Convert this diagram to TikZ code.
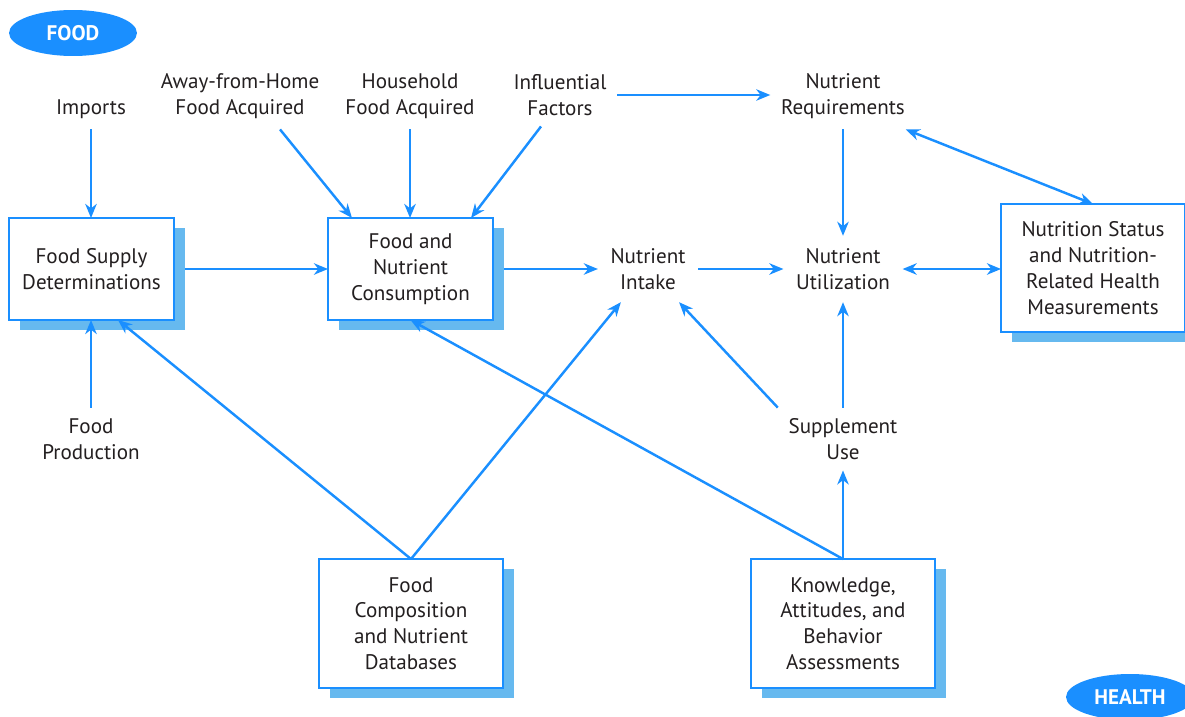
\documentclass[tikz,border=0pt]{standalone}
\usepackage{fontspec}
\setmainfont{PT Sans}
\usetikzlibrary{arrows.meta,shapes.geometric,shadows}
\definecolor{linkblue}{HTML}{1A8FFF}
\definecolor{shadeblue}{HTML}{66B9EF}
\definecolor{inkgray}{HTML}{231F20}

\begin{document}
\begin{tikzpicture}[x=0.02cm, y=-0.02cm, >={Stealth[length=8pt,width=6.5pt,inset=2.5pt]},
  every node/.style={font=\fontsize{12}{14.7}\selectfont, text=inkgray, align=center},
  box/.style={draw=linkblue, line width=1pt, fill=white, outer sep=0pt, minimum width=3.3cm, minimum height=2.04cm,
    general shadow={shadow xshift=0.22cm, shadow yshift=-0.2cm, fill=shadeblue}},
  lbl/.style={inner sep=6pt},
  tag/.style={ellipse, fill=linkblue, text=white, font=\fontsize{12}{14}\selectfont\bfseries, minimum width=2.56cm, minimum height=0.92cm},
  link/.style={draw=linkblue, line width=1.4pt, ->},
  both/.style={link, <->}]
\useasboundingbox (0,0) rectangle (1185,716);
% corner tags
\node[tag] (food) at (73,33) {FOOD};
\node[tag] (health) at (1130,697) {HEALTH};
% top row
\node[lbl] (imp) at (91,109) {Imports};
\node[lbl] (away) at (240,96) {Away-from-Home\\Food Acquired};
\node[lbl] (hh) at (410,96) {Household\\Food Acquired};
\node[lbl] (infl) at (560,95) {Influential\\Factors};
\node[lbl] (req) at (843,96) {Nutrient\\Requirements};
% middle row
\node[box] (fsd) at (91.5,269) {Food Supply\\Determinations};
\node[box] (cons) at (410.5,269) {Food and\\Nutrient\\Consumption};
\node[lbl, inner sep=7pt] (intake) at (648,269) {Nutrient\\Intake};
\node[lbl, inner sep=7pt] (util) at (843,269) {Nutrient\\Utilization};
\node[box, minimum width=3.68cm, minimum height=2.56cm] (nst) at (1093,268) {Nutrition Status\\and Nutrition-\\Related Health\\Measurements};
\node[lbl] (prod) at (91,439) {Food\\Production};
\node[lbl] (supp) at (843,439) {Supplement\\Use};
% bottom boxes
\node[box, minimum width=3.68cm, minimum height=2.58cm] (fcd) at (411,623.5) {Food\\Composition\\and Nutrient\\Databases};
\node[box, minimum width=3.68cm, minimum height=2.58cm] (kab) at (843,623.5) {Knowledge,\\Attitudes, and\\Behavior\\Assessments};
% food side
\draw[link] (imp.south) -- (imp.south |- fsd.north);
\draw[link] (prod.north) -- (prod.north |- fsd.south);
\draw[link] ([xshift=0.8cm]away.south) -- ([xshift=0.48cm]cons.north west);
\draw[link] (hh.south) -- (hh.south |- cons.north);
\draw[link] ([xshift=-0.38cm]infl.south) -- ([xshift=-0.44cm]cons.north east);
\draw[link] (infl) -- (infl -| req.west);
\draw[link, shorten <=0.22cm] (fsd.east) -- (fsd.east -| cons.west);
\draw[link, shorten <=0.22cm] (cons.east) -- (cons.east -| intake.west);
% health side
\draw[link] (intake) -- (util);
\draw[link] (req) -- (util);
\draw[both] (util.east) -- (util.east -| nst.west);
\draw[both] ([xshift=-0.2cm]req.south east) -- (nst.north);
\draw[link] (supp) -- (util);
\draw[link] (supp.north west) -- (intake);
% assessments
\draw[link] (kab.north) -- (supp);
\draw[link] (kab.north) -- (cons.south);
\draw[link] (fcd.north) -- ([xshift=0.53cm]fsd.south);
\draw[link] (fcd.north) -- (intake);
\end{tikzpicture}
\end{document}
